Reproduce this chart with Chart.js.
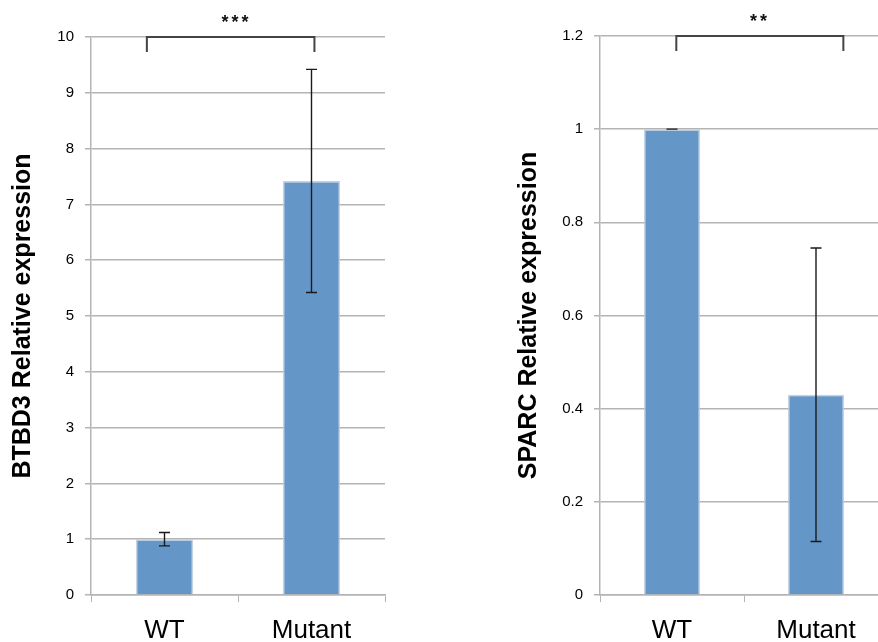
<!DOCTYPE html>
<html>
<head>
<meta charset="utf-8">
<script src="https://cdn.jsdelivr.net/npm/chart.js@4.4.1/dist/chart.umd.min.js"></script>
<style>
  html, body { margin: 0; padding: 0; background: #fff; overflow: hidden; width: 878px; height: 642px; }
  .box { position: absolute; top: 0; width: 440px; height: 642px; }
  #b1 { left: 0; }
  #b2 { left: 470px; }
</style>
</head>
<body>
<div class="box" id="b1"><canvas id="c1" width="440" height="642"></canvas></div>
<div class="box" id="b2"><canvas id="c2" width="440" height="642"></canvas></div>
<script>
const categories = ['WT', 'Mutant'];
const btbd3Values = [1.0, 7.42];
const btbd3Errors = [0.12, 2.0];
const btbd3Ticks = [0, 1, 2, 3, 4, 5, 6, 7, 8, 9, 10];
const btbd3Sig = '***';
const sparcValues = [1.0, 0.43];
const sparcErrors = [0.0, 0.315];
const sparcTicks = [0, 0.2, 0.4, 0.6, 0.8, 1.0, 1.2];
const sparcSig = '**';

const BAR = '#6496c8';
const GRID = '#b4b4b4';
const FONT = "'Liberation Sans', Arial, sans-serif";

const errorBarPlugin = {
  id: 'errorBars',
  afterDatasetsDraw(chart, args, opts) {
    const ctx = chart.ctx;
    const meta = chart.getDatasetMeta(0);
    const y = chart.scales.y;
    const vals = chart.data.datasets[0].data;
    ctx.save();
    ctx.strokeStyle = '#1a1a1a';
    ctx.lineWidth = 1.4;
    meta.data.forEach((bar, i) => {
      const err = opts.errors[i];
      const x = bar.x;
      const yt = y.getPixelForValue(vals[i] + err);
      const yb = y.getPixelForValue(vals[i] - err);
      ctx.beginPath();
      ctx.moveTo(x, yt); ctx.lineTo(x, yb);
      ctx.moveTo(x - 5.5, yt); ctx.lineTo(x + 5.5, yt);
      ctx.moveTo(x - 5.5, yb); ctx.lineTo(x + 5.5, yb);
      ctx.stroke();
    });
    ctx.restore();
  }
};

const bracketPlugin = {
  id: 'bracket',
  afterDraw(chart, args, opts) {
    const ctx = chart.ctx;
    const xs = chart.scales.x, ys = chart.scales.y;
    const x1 = xs.getPixelForValue(opts.from);
    const x2 = xs.getPixelForValue(opts.to);
    const yTop = ys.getPixelForValue(ys.max);
    ctx.save();
    ctx.strokeStyle = '#444';
    ctx.lineWidth = 2;
    ctx.beginPath();
    ctx.moveTo(x1, yTop + 15); ctx.lineTo(x1, yTop);
    ctx.lineTo(x2, yTop); ctx.lineTo(x2, yTop + 15);
    ctx.stroke();
    ctx.fillStyle = '#111';
    ctx.font = 'bold 18px ' + FONT;
    ctx.textAlign = 'center';
    ctx.textBaseline = 'middle';
    const chars = opts.label.split('');
    const step = 10;
    const cx = xs.getPixelForValue(opts.textAt);
    chars.forEach((c, i) => {
      ctx.fillText(c, cx + (i - (chars.length - 1) / 2) * step, yTop - 14);
    });
    ctx.restore();
  }
};

function makeChart(id, values, errors, ticks, title, pad, titlePad, yWidth, bracket) {
  return new Chart(document.getElementById(id), {
    type: 'bar',
    data: {
      labels: categories,
      datasets: [{
        data: values,
        backgroundColor: BAR,
        borderColor: 'rgba(190,205,222,0.9)',
        borderWidth: 1.5,
        barPercentage: 0.39,
        categoryPercentage: 1.0
      }]
    },
    options: {
      responsive: false,
      animation: false,
      events: [],
      layout: { padding: pad },
      plugins: {
        legend: { display: false },
        tooltip: { enabled: false },
        errorBars: { errors: errors },
        bracket: bracket
      },
      scales: {
        x: {
          grid: { drawOnChartArea: false, drawTicks: true, tickLength: 7, color: GRID, offset: true },
          border: { color: GRID, width: 1.5 },
          ticks: { color: '#000', font: { family: FONT, size: 26 }, padding: 13 },
          afterFit(s) { s.height = 47; }
        },
        y: {
          min: ticks[0],
          max: ticks[ticks.length - 1],
          afterBuildTicks(s) { s.ticks = ticks.map(v => ({ value: v })); },
          grid: { color: GRID, lineWidth: 1.5, tickLength: 6 },
          border: { color: GRID, width: 1.5 },
          ticks: { color: '#000', font: { family: FONT, size: 15 }, padding: 11,
                   callback: v => String(v) },
          title: { display: true, text: title, color: '#000',
                   font: { family: FONT, size: 25, weight: 'bold' },
                   padding: { top: titlePad, bottom: 0 } },
          afterFit(s) { s.width = yWidth; }
        }
      }
    },
    plugins: [errorBarPlugin, bracketPlugin]
  });
}

makeChart('c1', btbd3Values, btbd3Errors, btbd3Ticks, 'BTBD3 Relative expression',
  { top: 37, right: 55, bottom: 0, left: 0 }, 8, 91,
  { from: -0.12, to: 1.02, textAt: 0.48, label: btbd3Sig });

makeChart('c2', sparcValues, sparcErrors, sparcTicks, 'SPARC Relative expression',
  { top: 36, right: 22, bottom: 0, left: 0 }, 44, 130,
  { from: 0.03, to: 1.19, textAt: 0.6, label: sparcSig });
</script>
</body>
</html>
